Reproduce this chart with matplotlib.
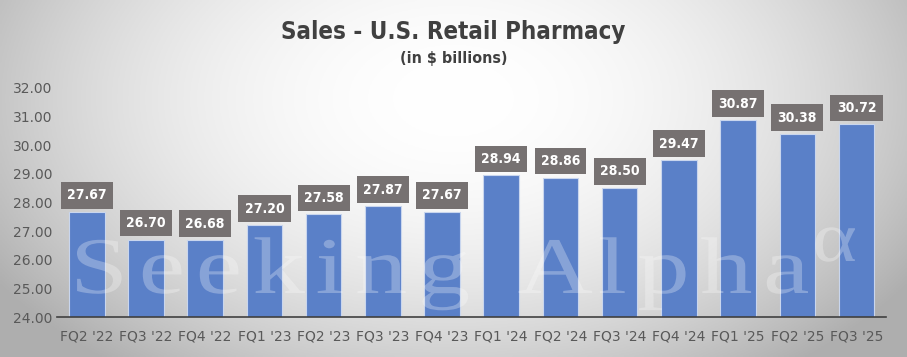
import numpy as np
import matplotlib
matplotlib.use("Agg")
import matplotlib.pyplot as plt
from matplotlib.textpath import TextPath, text_to_path
from matplotlib.patches import PathPatch
from matplotlib.font_manager import FontProperties
from matplotlib.transforms import Affine2D

# dados
trimestres = ["FQ2 '22", "FQ3 '22", "FQ4 '22", "FQ1 '23", "FQ2 '23", "FQ3 '23", "FQ4 '23",
              "FQ1 '24", "FQ2 '24", "FQ3 '24", "FQ4 '24", "FQ1 '25", "FQ2 '25", "FQ3 '25"]
vendas = [27.67, 26.70, 26.68, 27.20, 27.58, 27.87, 27.67,
          28.94, 28.86, 28.50, 29.47, 30.87, 30.38, 30.72]
yticks = [24, 25, 26, 27, 28, 29, 30, 31, 32]

W, H = 907, 357
fig = plt.figure(figsize=(W / 100, H / 100), dpi=100)

# fundo com gradiente radial
bg = fig.add_axes([0, 0, 1, 1])
xx, yy = np.meshgrid(np.linspace(-1, 1, 400), np.linspace(-1, 1, 160))
r = np.sqrt((xx / 1.0) ** 2 + ((yy + 0.45) / 1.6) ** 2)
tom = 1.0 - 0.22 * np.clip(r, 0, 1.2) ** 2
bg.imshow(np.dstack([tom, tom, tom]), aspect="auto", extent=[0, 1, 0, 1], origin="upper")
bg.axis("off")

ax = fig.add_axes([0.063, 0.112, 0.914, 0.642])
ax.patch.set_alpha(0)
x = np.arange(len(trimestres))
ax.bar(x, vendas, width=0.6, color="#5a80c8", edgecolor="#c9d6ee", linewidth=0.8, zorder=2)

for xi, v in zip(x, vendas):
    ax.text(xi, v + 0.58, f"{v:.2f}", ha="center", va="center", color="white",
            fontsize=10, fontweight="bold", fontstretch="condensed", zorder=4,
            bbox=dict(boxstyle="square,pad=0.45", fc="#767171", ec="none"))

ax.set_xlim(-0.5, len(trimestres) - 0.5)
ax.set_ylim(24, 32)
ax.set_yticks(yticks)
ax.set_yticklabels([f"{t:.2f}" for t in yticks])
ax.set_xticks(x)
ax.set_xticklabels(trimestres)
ax.tick_params(axis="both", length=0, colors="#595959", labelsize=10)
ax.tick_params(axis="x", pad=9)
for s in ["top", "right", "left"]:
    ax.spines[s].set_visible(False)
ax.spines["bottom"].set_color("#404040")
ax.spines["bottom"].set_linewidth(1.2)


# marca d'agua: letras alargadas e espacadas ate a largura do original
def marca(texto, x0, base, largura, altura_cap, estica=1.3):
    fp = FontProperties(family="Liberation Serif", size=1)
    cap = TextPath((0, 0), "S", size=1, prop=fp).get_extents().height
    esc = altura_cap / cap
    pos = [text_to_path.get_text_width_height_descent(texto[:i], fp, ismath=False)[0]
           for i in range(len(texto))]
    fim = TextPath((0, 0), texto, size=1, prop=fp).get_extents().x1
    gap = (largura / (esc * estica) - fim) / max(len(texto) - 1, 1)
    for i, ch in enumerate(texto):
        if ch == " ":
            continue
        p = TextPath((pos[i] + i * gap, 0), ch, size=1, prop=fp)
        t = Affine2D().scale(esc * estica / W, esc / H).translate(x0 / W, 1 - base / H)
        fig.add_artist(PathPatch(p, transform=t + fig.transFigure, fc="white", ec="none",
                                 alpha=0.28, zorder=5))


marca("Seeking Alpha", 70, 293, 738, 54)
marca("\u03b1", 812, 261, 74, 48, estica=1.2)

fig.text(0.5, 0.91, "Sales - U.S. Retail Pharmacy", ha="center", va="center",
         fontsize=17.3, fontweight="bold", fontstretch="condensed", color="#404040")
fig.text(0.5, 0.835, "(in $ billions)", ha="center", va="center",
         fontsize=11.5, fontweight="bold", fontstretch="condensed", color="#404040")

fig.savefig("out.png", dpi=100)
